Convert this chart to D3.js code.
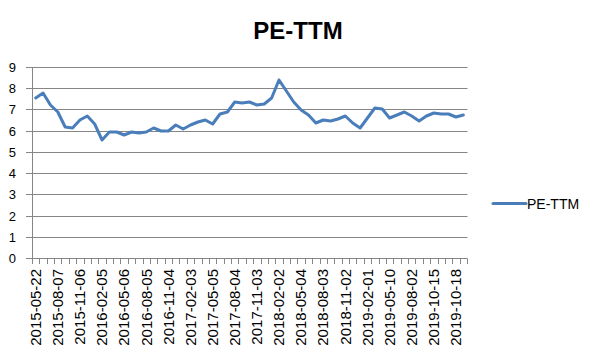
<!DOCTYPE html>
<html>
<head>
<meta charset="utf-8">
<script src="https://cdn.jsdelivr.net/npm/d3@7"></script>
<style>
  html, body { margin: 0; padding: 0; background: #fff; }
  svg { display: block; }
</style>
</head>
<body>
<svg id="chart" width="596" height="358"></svg>
<script>
const title = "PE-TTM";
const seriesName = "PE-TTM";
// PE-TTM values, one per category (59 periods)
const peValues = [
  7.52, 7.78, 7.20, 6.86, 6.19, 6.14, 6.50, 6.67, 6.30, 5.57,
  5.94, 5.95, 5.81, 5.94, 5.90, 5.95, 6.13, 5.98, 5.98, 6.29,
  6.10, 6.27, 6.43, 6.52, 6.30, 6.78, 6.87, 7.37, 7.29, 7.37,
  7.21, 7.25, 7.52, 8.41, 7.89, 7.37, 6.98, 6.75, 6.35, 6.49,
  6.44, 6.54, 6.67, 6.35, 6.13, 6.59, 7.05, 7.00, 6.60, 6.75,
  6.86, 6.67, 6.46, 6.67, 6.81, 6.78, 6.78, 6.65, 6.76
];
// Category labels shown on the axis (every 3rd category)
const tickLabels = [
  "2015-05-22", "2015-08-07", "2015-11-06", "2016-02-05", "2016-05-06",
  "2016-08-05", "2016-11-04", "2017-02-03", "2017-05-05", "2017-08-04",
  "2017-11-03", "2018-02-02", "2018-05-04", "2018-08-03", "2018-11-02",
  "2019-02-01", "2019-05-10", "2019-08-02", "2019-10-15", "2019-10-18"
];
const labelStep = 3;
const yTicks = [0, 1, 2, 3, 4, 5, 6, 7, 8, 9];

const categories = peValues.map((_, i) => i);
const labelOf = new Map(tickLabels.map((t, k) => [k * labelStep, t]));

const svg = d3.select("#chart");
const plotLeft = 32, plotRight = 467, plotTop = 67, plotBottom = 258;

const x = d3.scaleBand().domain(categories).range([plotLeft, plotRight]).padding(0);
const y = d3.scaleLinear().domain([0, 9]).rangeRound([plotBottom, plotTop]);

const gridColor = "#868686";

// Gridlines (extend left past axis as tick marks)
svg.append("g")
  .selectAll("line")
  .data(yTicks)
  .join("line")
  .attr("x1", plotLeft - 6).attr("x2", plotRight + 0.5)
  .attr("y1", d => y(d) + 0.5).attr("y2", d => y(d) + 0.5)
  .attr("stroke", gridColor).attr("stroke-width", 1);

// Y axis labels
const yAxis = d3.axisLeft(y).tickValues(yTicks).tickSize(0).tickPadding(15);
const gy = svg.append("g").attr("transform", `translate(${plotLeft},0)`).call(yAxis);
gy.select(".domain").remove();
gy.selectAll("text")
  .attr("font-family", "Liberation Sans, Arial, sans-serif")
  .attr("font-size", 13).attr("fill", "#000").attr("x", -16);

// Y axis line
svg.append("line")
  .attr("x1", plotLeft + 0.5).attr("x2", plotLeft + 0.5)
  .attr("y1", y(9) + 0.5).attr("y2", y(0) + 0.5)
  .attr("stroke", gridColor);

// X axis tick marks at category boundaries
const boundaries = categories.map(c => x(c)).concat([x(categories[categories.length - 1]) + x.bandwidth()]);
svg.append("g")
  .selectAll("line")
  .data(boundaries)
  .join("line")
  .attr("x1", d => Math.round(d) + 0.5).attr("x2", d => Math.round(d) + 0.5)
  .attr("y1", y(0) + 0.5).attr("y2", y(0) + 6)
  .attr("stroke", gridColor);

// X axis labels
const xAxis = d3.axisBottom(x)
  .tickValues(categories.filter(c => labelOf.has(c)))
  .tickFormat(c => labelOf.get(c))
  .tickSize(0);
const gx = svg.append("g").attr("transform", `translate(0,${y(0)})`).call(xAxis);
gx.select(".domain").remove();
gx.selectAll("text")
  .attr("font-family", "Liberation Sans, Arial, sans-serif")
  .attr("font-size", 15).attr("fill", "#000")
  .attr("transform", "rotate(-90)")
  .attr("text-anchor", "end")
  .attr("x", -11).attr("y", 0).attr("dy", "0.35em");

// Series line
const line = d3.line()
  .x((d, i) => x(categories[i]) + x.bandwidth() / 2)
  .y(d => y(d));
svg.append("path")
  .datum(peValues)
  .attr("d", line)
  .attr("fill", "none")
  .attr("stroke", "#4a7ebb")
  .attr("stroke-width", 3)
  .attr("stroke-linejoin", "round")
  .attr("stroke-linecap", "round");

// Title
svg.append("text")
  .attr("x", 298).attr("y", 39)
  .attr("text-anchor", "middle")
  .attr("font-family", "Liberation Sans, Arial, sans-serif")
  .attr("font-weight", "bold")
  .attr("font-size", 24)
  .attr("fill", "#000")
  .text(title);

// Legend
const lg = svg.append("g");
lg.append("line")
  .attr("x1", 493).attr("x2", 526).attr("y1", 203.5).attr("y2", 203.5)
  .attr("stroke", "#4a7ebb").attr("stroke-width", 3).attr("stroke-linecap", "round");
lg.append("text")
  .attr("x", 527).attr("y", 208.5)
  .attr("font-family", "Liberation Sans, Arial, sans-serif")
  .attr("font-size", 14).attr("fill", "#000")
  .text(seriesName);
</script>
</body>
</html>
